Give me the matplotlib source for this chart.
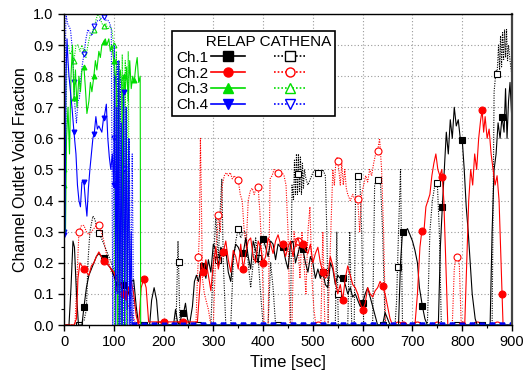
import matplotlib; matplotlib.use("Agg")
import matplotlib.pyplot as plt, numpy as np
from matplotlib.lines import Line2D
from matplotlib.ticker import MultipleLocator, FormatStrFormatter

plt.rcParams["font.family"] = ["Liberation Sans", "DejaVu Sans"]

# RELAP Ch.1 (black solid)
r1_t = [0,10,14,18,21,25,29,36,40,45,50,55,60,65,70,75,80,85,90,95,100,105,110,115,120,125,130,135,140,145,150,172,176,181,186,190,
        220,224,228,232,236,240,244,248,252,258,262,266,270,275,280,285,290,295,300,305,310,315,320,325,330,335,340,345,350,355,360,
        365,370,375,380,385,390,395,400,405,410,415,420,425,430,435,440,445,450,455,460,465,470,475,480,485,490,495,500,505,510,515,
        520,525,530,535,540,545,550,555,560,565,570,575,580,585,590,595,600,605,610,615,620,625,630,640,645,650,655,672,676,680,685,
        690,695,700,705,710,714,720,725,730,752,756,760,764,768,772,776,780,784,788,792,796,800,804,808,812,816,820,826,830,856,860,
        864,868,872,876,880,884,887,890,893,896,900]
r1_v = [0,0,0.12,0.27,0.25,0.1,0,0,0.057,0.12,0.16,0.18,0.2,0.22,0.23,0.22,0.215,0.2,0.19,0.18,0.16,0.135,0.13,0.13,0.13,0.12,0.1,0.14,0.145,0.06,0,0,0.08,0.12,0.08,0,
        0,0.05,0.01,0,0.03,0.037,0.07,0.02,0,0.06,0.14,0.16,0.14,0.18,0.19,0.15,0.21,0.17,0.26,0.24,0.19,0.25,0.235,0.24,0.17,0.14,0.22,0.26,0.25,0.23,0.23,
        0.28,0.22,0.18,0.27,0.24,0.2,0.27,0.277,0.25,0.22,0.27,0.26,0.21,0.26,0.25,0.25,0.21,0.18,0.26,0.27,0.2,0.23,0.26,0.244,0.2,0.17,0.22,0.2,0.15,0.18,0.15,
        0.17,0.13,0.12,0.2,0.18,0.13,0.16,0.15,0.15,0.13,0.1,0.12,0.09,0.1,0.08,0.06,0.07,0.1,0.12,0.09,0.06,0.03,0,0,0.04,0.02,0,0,0.2,0.3,0.3,
        0.31,0.29,0.27,0.24,0.2,0.12,0.06,0.02,0,0,0.25,0.38,0.5,0.62,0.55,0.66,0.6,0.7,0.64,0.66,0.6,0.595,0.5,0.38,0.3,0.2,0.1,0.02,0,0,0.3,
        0.5,0.55,0.65,0.6,0.67,0.62,0.76,0.6,0.72,0.78,0.65]

# RELAP Ch.2 (red solid)
r2_t = [0,20,25,28,32,36,40,45,50,55,60,65,70,75,80,85,90,95,100,105,110,115,120,125,130,135,140,145,150,155,160,165,170,200,268,272,276,
        280,285,290,295,300,305,310,315,320,325,330,335,340,345,350,355,360,365,370,375,380,385,390,395,400,405,410,415,420,425,430,435,
        440,445,450,455,460,465,470,475,480,485,490,495,500,505,510,515,520,525,530,535,540,545,550,555,560,565,570,575,580,585,590,595,
        600,605,610,615,620,625,630,635,640,645,650,655,660,705,710,715,719,723,727,731,735,739,743,747,751,755,759,763,767,771,805,809,
        813,817,821,825,829,833,837,840,843,846,850,854,858,862,866,870,874,878,882,900]
r2_v = [0,0,0.02,0.15,0.2,0.19,0.18,0.17,0.16,0.19,0.2,0.22,0.235,0.22,0.205,0.2,0.19,0.18,0.17,0.15,0.14,0.13,0.1,0.08,0.12,0.14,0.1,0.03,0,0.12,0.148,0.12,0.01,0.01,0.01,0.1,0.2,
        0.17,0.21,0.16,0.11,0.2,0.25,0.18,0.22,0.235,0.27,0.21,0.17,0.24,0.22,0.18,0.26,0.18,0.23,0.27,0.28,0.22,0.2,0.27,0.25,0.2,0.22,0.28,0.26,0.23,0.27,0.29,0.26,
        0.26,0.22,0.25,0.27,0.22,0.26,0.28,0.25,0.26,0.24,0.23,0.26,0.2,0.23,0.25,0.2,0.17,0.15,0.16,0.22,0.19,0.14,0.1,0.13,0.08,0.15,0.19,0.16,0.13,0.12,0.1,0.07,
        0.048,0.07,0.12,0.1,0.09,0.11,0.12,0.14,0.125,0.1,0.06,0.02,0,0,0.1,0.25,0.305,0.3,0.38,0.4,0.42,0.48,0.52,0.55,0.5,0.48,0.5,0.4,0.2,0,0,0.2,
        0.4,0.5,0.45,0.55,0.5,0.6,0.66,0.69,0.62,0.67,0.6,0.63,0.55,0.5,0.45,0.48,0.4,0.2,0,0]

# RELAP Ch.3 (green solid)
r3_t = [0,3,5,8,11,14,17,20,23,26,30,33,36,40,43,46,50,53,56,60,63,66,70,73,76,80,83,86,90,93,96,100,103,106,108,110,113,116,118,120,
        123,126,129,132,135,138,141,144,147,150,153,154,900]
r3_v = [0.5,0.3,0.6,0.7,0.55,0.8,0.9,0.73,0.82,0.7,0.8,0.75,0.82,0.83,0.76,0.68,0.72,0.78,0.75,0.8,0.85,0.82,0.88,0.86,0.9,0.91,0.92,0.9,0.92,0.88,0.9,0.85,0.8,0.75,0,0.78,0.82,0.77,0.3,0.8,
        0.75,0.83,0.72,0.85,0.76,0.8,0.78,0.83,0.86,0.78,0.8,0,0]

# RELAP Ch.4 (blue solid)
r4_t = [0,2,4,6,8,10,13,16,20,24,27,30,33,36,40,43,46,49,52,55,58,61,64,67,70,73,76,79,82,85,88,91,94,97,100,102,104,106,108,110,112,
        115,117,120,122,125,127,130,132,135,137,900]
r4_v = [0.29,0.3,0.8,0.92,0.85,0.8,0.75,0.7,0.62,0.55,0.45,0.4,0.38,0.46,0.46,0.4,0.35,0.44,0.5,0.55,0.6,0.62,0.67,0.63,0.64,0.63,0.62,0.66,0.68,0.71,0.6,0.54,0.5,0.55,0.45,0.8,0,0.7,0.1,0.85,0,
        0.65,0,0.75,0,0.7,0.05,0.6,0,0.3,0,0]

# CATHENA Ch.1 (black dotted)
c1_t = [0,30,35,40,45,48,52,58,62,68,75,85,95,105,110,120,130,140,150,225,229,233,238,295,300,305,310,314,317,320,325,335,340,345,350,355,
        360,365,370,375,380,385,390,395,400,410,415,420,425,455,458,461,463,465,467,469,471,473,475,477,479,481,483,486,490,495,500,505,
        510,515,520,525,528,531,545,548,551,570,574,578,583,586,590,594,598,602,620,624,628,632,636,640,645,665,668,672,676,680,730,735,
        740,745,750,754,758,860,864,868,870,873,875,877,879,881,883,885,887,889,891,893,896,900]
c1_v = [0,0,0.01,0.013,0.05,0.2,0.3,0.35,0.34,0.3,0.28,0.24,0.2,0.16,0.13,0.13,0.12,0.08,0,0,0.27,0,0,0,0.2,0.35,0.21,0.38,0.47,0.2,0,0,0.2,0.27,0.31,0.28,
        0.3,0.3,0.2,0.12,0.2,0.28,0.215,0.1,0,0,0.2,0.12,0,0,0.45,0.4,0.53,0.42,0.55,0.42,0.55,0.43,0.54,0.42,0.52,0.44,0.5,0.47,0.45,0.47,0.49,0.5,
        0.49,0.48,0.5,0.48,0.3,0,0,0.3,0,0,0.3,0,0,0.48,0.48,0.48,0.3,0,0,0.45,0.47,0.46,0.45,0.3,0,0,0.074,0.3,0.5,0,0,0.3,
        0.4,0.45,0.455,0.3,0,0,0.75,0.82,0.807,0.9,0.82,0.93,0.83,0.94,0.85,0.95,0.86,0.95,0.85,0.9,0.85,0.8]

# CATHENA Ch.2 (red dotted)
c2_t = [0,22,26,30,35,40,45,50,55,60,65,70,75,80,85,90,95,100,105,110,120,130,140,145,265,268,270,272,274,276,278,282,290,295,300,305,
        308,310,314,318,322,326,330,334,338,342,346,350,354,358,362,366,370,374,378,382,386,390,394,398,402,410,414,418,422,426,430,434,
        438,442,446,450,454,458,462,466,470,474,478,482,486,490,494,498,502,506,516,520,524,530,535,540,543,546,549,552,555,558,561,564,
        567,570,575,580,585,590,594,598,602,606,610,614,618,622,626,630,634,638,642,646,780,784,788,790,794,798,900]
c2_v = [0,0,0.15,0.3,0.32,0.32,0.3,0.29,0.3,0.31,0.32,0.32,0.3,0.27,0.23,0.2,0.17,0.16,0.14,0.12,0.1,0.06,0.02,0,0,0.15,0.22,0.3,0.6,0.4,0.15,0.1,0.05,0,0,0.25,
        0.3,0.354,0.3,0.45,0.48,0.49,0.48,0.49,0.47,0.48,0.47,0.466,0.42,0.4,0.3,0.25,0.4,0.43,0.44,0.42,0.44,0.445,0.35,0.2,0,0,0.47,0.48,0.5,0.49,0.49,0.48,
        0.49,0.48,0.45,0.3,0,0,0.3,0.25,0.27,0.15,0.3,0.2,0.1,0.3,0.38,0.15,0.05,0,0,0.3,0,0,0.25,0.5,0.45,0.52,0.54,0.5,0.45,0.52,0.45,0.5,
        0.44,0.42,0.4,0.42,0.4,0.405,0.3,0.42,0.45,0.48,0.46,0.5,0.48,0.52,0.55,0.56,0.6,0.5,0.3,0,0,0.18,0.23,0.22,0.2,0,0]

# CATHENA Ch.3 (green dotted)
c3_t = [0,3,6,9,12,16,20,24,28,32,36,40,44,48,52,56,60,64,68,72,76,80,84,88,92,96,100,102,105,108,111,114,117,120,123,126,129,132,135,900]
c3_v = [0.45,0.5,0.9,0.9,0.87,0.88,0.85,0.9,0.9,0.88,0.9,0.88,0.86,0.9,0.93,0.94,0.95,0.98,1.0,0.99,0.97,0.96,0.97,0.95,0.96,0.95,0.9,0,0.88,0,0.85,0,0.87,0,0.85,0,0.88,0.2,0,0]

# CATHENA Ch.4 (blue dotted)
c4_t = [0,2,4,7,10,13,16,19,22,25,28,31,34,37,40,44,48,52,56,60,64,68,72,76,80,84,88,92,95,98,101,104,107,110,113,116,119,122,125,128,
        131,134,137,140,900]
c4_v = [0.3,0.8,1.0,0.97,0.96,0.95,0.9,0.82,0.7,0.65,0.72,0.73,0.8,0.84,0.87,0.92,0.95,0.94,0.93,0.96,0.97,0.98,0.98,0.99,0.99,0.98,0.98,0.97,0.95,0,0.9,0.1,0.85,0,0.8,0,0.75,0,0.7,0,
        0.6,0,0.55,0,0]

fig = plt.figure(figsize=(5.23, 3.78), dpi=100)
ax = fig.add_axes([0.1224, 0.1402, 0.8566, 0.8228])
ax.set_axisbelow(True)
ax.grid(True, which="major", color="#9a9a9a", linestyle=(0, (1, 2)), linewidth=0.8)

dot = (0, (1, 1.2))
series = [
    (c1_t, c1_v, "black", dot, "s", "white", 30),
    (c2_t, c2_v, "red", dot, "o", "white", 30),
    (c3_t, c3_v, "#00dd00", dot, "^", "white", 10),
    (c4_t, c4_v, "blue", dot, "v", "white", 10),
    (r1_t, r1_v, "black", "-", "s", "black", 40),
    (r2_t, r2_v, "red", "-", "o", "red", 40),
    (r3_t, r3_v, "#00dd00", "-", "^", "#00dd00", 20),
    (r4_t, r4_v, "blue", "-", "v", "blue", 20),
]
handles = []
for t, v, col, ls, mk, fc, step in series:
    ax.plot(t, v, color=col, linestyle=ls, linewidth=0.8)
    mt = np.arange(step if step >= 30 else 0, 901, 40 if step >= 30 else 20)
    ms = 5 if step >= 30 else 3.5
    ax.plot(mt, np.interp(mt, t, v), linestyle="none", marker=mk, markersize=ms,
            markerfacecolor=fc, markeredgecolor=col, markeredgewidth=0.8)
    handles.append(Line2D([], [], color=col, linestyle=ls, linewidth=1.2, marker=mk,
                          markersize=6.5, markerfacecolor=fc, markeredgecolor=col))

ax.set_xlim(0, 900); ax.set_ylim(0, 1.0)
ax.xaxis.set_major_locator(MultipleLocator(100)); ax.xaxis.set_minor_locator(MultipleLocator(50))
ax.yaxis.set_major_locator(MultipleLocator(0.1)); ax.yaxis.set_minor_locator(MultipleLocator(0.05))
ax.yaxis.set_major_formatter(FormatStrFormatter("%.1f"))
ax.tick_params(which="major", direction="out", length=4, width=1, labelsize=10.5)
ax.tick_params(which="minor", direction="out", length=2.5, width=0.8)
for sp in ax.spines.values(): sp.set_linewidth(1.0)
ax.spines["right"].set_linewidth(1.6); ax.spines["right"].set_color("#444")
ax.set_xlabel("Time [sec]", fontsize=12)
ax.set_ylabel("Channel Outlet Void Fraction", fontsize=11.5)

labels = ["Ch.1", "Ch.2", "Ch.3", "Ch.4", "", "", "", ""]
leg = ax.legend([handles[4], handles[5], handles[6], handles[7], handles[0], handles[1], handles[2], handles[3]],
                labels, ncol=2, markerfirst=False, title="       RELAP CATHENA", alignment="left",
                loc="upper left", bbox_to_anchor=(0.241, 0.945), fontsize=11, title_fontsize=11,
                fancybox=False, framealpha=1, edgecolor="black", handlelength=2.2, handletextpad=0.2,
                columnspacing=1.7, labelspacing=0.12, borderpad=0.25, borderaxespad=0)
leg.get_frame().set_linewidth(1.2)

fig.savefig("out.png", dpi=100)
